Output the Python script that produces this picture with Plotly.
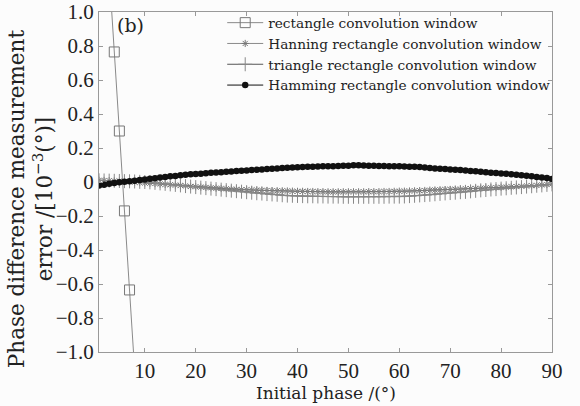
import plotly.graph_objects as go

# Initial phase (degrees)
phase = list(range(1, 91))

# Rectangle convolution window: steep error, only a few points fall inside the range
rect_phase = [3, 4, 5, 6, 7, 8]
rect_err = [1.235, 0.765, 0.300, -0.170, -0.635, -1.105]

hanning_err = [
    0.010, 0.009, 0.008, 0.006, 0.005, 0.003, 0.001, -0.001, -0.003, -0.005,
    -0.007, -0.009, -0.012, -0.014, -0.016, -0.018, -0.020, -0.023, -0.026, -0.028,
    -0.030, -0.032, -0.034, -0.036, -0.038, -0.040, -0.042, -0.043, -0.045, -0.046,
    -0.047, -0.048, -0.049, -0.050, -0.051, -0.052, -0.052, -0.053, -0.054, -0.055,
    -0.055, -0.056, -0.056, -0.057, -0.057, -0.058, -0.058, -0.058, -0.058, -0.058,
    -0.058, -0.058, -0.058, -0.057, -0.057, -0.057, -0.056, -0.056, -0.055, -0.054,
    -0.054, -0.053, -0.052, -0.051, -0.050, -0.048, -0.047, -0.046, -0.045, -0.044,
    -0.043, -0.042, -0.040, -0.039, -0.038, -0.037, -0.035, -0.034, -0.033, -0.031,
    -0.030, -0.028, -0.027, -0.025, -0.023, -0.022, -0.020, -0.017, -0.015, -0.012,
]

triangle_err = [
    0.010, 0.009, 0.008, 0.007, 0.006, 0.005, 0.004, 0.003, 0.001, 0.000,
    -0.002, -0.005, -0.008, -0.011, -0.014, -0.017, -0.020, -0.024, -0.027, -0.030,
    -0.033, -0.036, -0.039, -0.042, -0.045, -0.048, -0.051, -0.054, -0.057, -0.060,
    -0.063, -0.066, -0.068, -0.071, -0.073, -0.075, -0.078, -0.080, -0.081, -0.082,
    -0.083, -0.084, -0.084, -0.085, -0.085, -0.086, -0.086, -0.086, -0.087, -0.087,
    -0.087, -0.087, -0.087, -0.087, -0.087, -0.087, -0.087, -0.086, -0.086, -0.086,
    -0.085, -0.083, -0.081, -0.079, -0.077, -0.075, -0.072, -0.070, -0.067, -0.065,
    -0.063, -0.060, -0.058, -0.055, -0.052, -0.049, -0.047, -0.044, -0.042, -0.039,
    -0.037, -0.034, -0.032, -0.030, -0.027, -0.025, -0.022, -0.020, -0.017, -0.014,
]

hamming_err = [
    -0.020, -0.016, -0.011, -0.006, -0.002, 0.002, 0.005, 0.008, 0.012, 0.015,
    0.019, 0.022, 0.026, 0.030, 0.034, 0.036, 0.039, 0.042, 0.045, 0.047,
    0.049, 0.052, 0.054, 0.056, 0.058, 0.060, 0.062, 0.064, 0.066, 0.068,
    0.070, 0.072, 0.074, 0.076, 0.078, 0.080, 0.082, 0.084, 0.085, 0.087,
    0.088, 0.089, 0.090, 0.091, 0.092, 0.093, 0.093, 0.094, 0.095, 0.096,
    0.098, 0.099, 0.097, 0.096, 0.095, 0.094, 0.094, 0.093, 0.093, 0.092,
    0.091, 0.090, 0.089, 0.088, 0.086, 0.083, 0.080, 0.078, 0.076, 0.074,
    0.072, 0.070, 0.068, 0.065, 0.063, 0.060, 0.058, 0.055, 0.053, 0.050,
    0.048, 0.045, 0.042, 0.039, 0.037, 0.034, 0.030, 0.027, 0.023, 0.018,
]

x_ticks = [10, 20, 30, 40, 50, 60, 70, 80, 90]
y_ticks = [1.0, 0.8, 0.6, 0.4, 0.2, 0.0, -0.2, -0.4, -0.6, -0.8, -1.0]
y_tick_text = ["1.0", "0.8", "0.6", "0.4", "0.2", "0",
               "\u22120.2", "\u22120.4", "\u22120.6", "\u22120.8", "\u22121.0"]

SERIF_WIDE = "DejaVu Serif"
SERIF = "Liberation Serif"
GRAY = "#8a8a8a"
INK = "#222222"

fig = go.Figure()

fig.add_trace(go.Scatter(
    x=rect_phase, y=rect_err, mode="lines+markers",
    name="rectangle convolution window",
    line=dict(color=GRAY, width=1),
    marker=dict(symbol="square-open", size=10, color="#777777", line=dict(width=1)),
))
fig.add_trace(go.Scatter(
    x=phase, y=hanning_err, mode="lines+markers",
    name="Hanning rectangle convolution window",
    line=dict(color=GRAY, width=1),
    marker=dict(symbol="asterisk-open", size=6, color="#777777", line=dict(width=1)),
))
fig.add_trace(go.Scatter(
    x=phase, y=triangle_err, mode="lines+markers",
    name="triangle rectangle convolution window",
    line=dict(color="#555555", width=1),
    marker=dict(symbol="cross-thin-open", size=10, color="#888888", line=dict(width=1)),
))
fig.add_trace(go.Scatter(
    x=phase, y=hamming_err, mode="lines+markers",
    name="Hamming rectangle convolution window",
    line=dict(color="#111111", width=1),
    marker=dict(symbol="circle", size=6.5, color="#111111"),
))

# panel tag
fig.add_annotation(
    x=0.035, y=1.0, xref="paper", yref="paper", xanchor="left", yanchor="top",
    text="(b)", showarrow=False, font=dict(family=SERIF_WIDE, size=19, color=INK),
)
# axis titles
fig.add_annotation(
    x=-0.152, y=0.45, xref="paper", yref="paper", xanchor="center", yanchor="middle",
    textangle=-90, showarrow=False,
    text="Phase difference measurement<br>error /[10<sup>\u22123</sup>(\u00b0)]",
    font=dict(family=SERIF_WIDE, size=21.5, color=INK),
)
fig.add_annotation(
    x=0.5, y=-0.121, xref="paper", yref="paper", xanchor="center", yanchor="middle",
    showarrow=False, text="Initial phase /(\u00b0)",
    font=dict(family=SERIF_WIDE, size=17, color=INK),
)

axis_common = dict(
    showgrid=False, zeroline=False, showline=True, linecolor="#999999", linewidth=1,
    mirror="ticks", ticks="inside", ticklen=4, tickcolor="#999999",
    tickfont=dict(family=SERIF, size=21, color=INK), automargin=False,
)

fig.update_layout(
    width=580, height=406,
    margin=dict(l=99, r=28, t=12, b=54, autoexpand=False),
    paper_bgcolor="#fcfcfc", plot_bgcolor="#fcfcfc",
    showlegend=True,
    legend=dict(
        x=0.272, y=1.014, xanchor="left", yanchor="top",
        bgcolor="rgba(0,0,0,0)", borderwidth=0,
        font=dict(family=SERIF_WIDE, size=13.7, color=INK),
        tracegroupgap=0, itemwidth=36,
    ),
    xaxis=dict(range=[1, 90], tickvals=x_ticks, **axis_common),
    yaxis=dict(range=[-1, 1], tickvals=y_ticks, ticktext=y_tick_text, **axis_common),
)

fig.write_html("out.html")
